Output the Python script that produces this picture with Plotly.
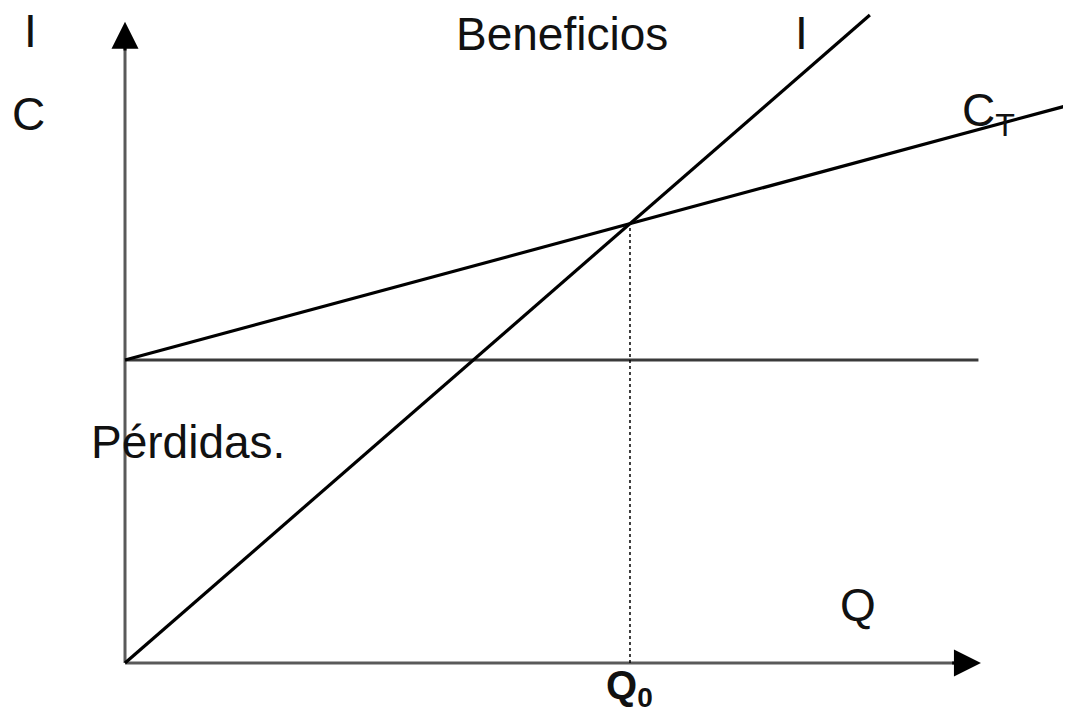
import plotly.graph_objects as go

# punto muerto: ingresos I = p*Q, costes C_T = CF + cv*Q
q0 = 100
precio = 0.87
coste_fijo = 60
coste_var = 0.27

q_ingresos = [0, 147.5]
q_costes = [0, 187.5]
q_fijo = [0, 169]
eje_x_fin = 169.5
eje_y_fin = 127

ingresos = [precio * q for q in q_ingresos]
costes = [coste_fijo + coste_var * q for q in q_costes]
fijos = [coste_fijo for _ in q_fijo]

fuente = "Liberation Sans, Arial, sans-serif"
gris = "#5a5a5a"

fig = go.Figure()

# ejes
fig.add_trace(go.Scatter(x=[0, eje_x_fin - 3], y=[0, 0], mode="lines",
                         line=dict(color=gris, width=3)))
fig.add_trace(go.Scatter(x=[0, 0], y=[0, eje_y_fin - 3], mode="lines",
                         line=dict(color=gris, width=3)))

fig.add_trace(go.Scatter(x=q_fijo, y=fijos, mode="lines",
                         line=dict(color="#3a3a3a", width=3)))
fig.add_trace(go.Scatter(x=q_costes, y=costes, mode="lines",
                         line=dict(color="black", width=3.2)))
fig.add_trace(go.Scatter(x=q_ingresos, y=ingresos, mode="lines",
                         line=dict(color="black", width=3.2)))
fig.add_trace(go.Scatter(x=[q0, q0], y=[0, precio * q0], mode="lines",
                         line=dict(color="black", width=1.5, dash="dot")))

# puntas de flecha
fig.add_annotation(x=eje_x_fin, y=0, ax=eje_x_fin - 6, ay=0, xref="x", yref="y",
                   axref="x", ayref="y", text="", showarrow=True, arrowhead=2,
                   arrowsize=1.8, arrowwidth=3, arrowcolor="black")
fig.add_annotation(x=0, y=eje_y_fin, ax=0, ay=eje_y_fin - 6, xref="x", yref="y",
                   axref="x", ayref="y", text="", showarrow=True, arrowhead=2,
                   arrowsize=1.8, arrowwidth=3, arrowcolor="black")

etiquetas = [
    ("I", -18.8, 125.2, "center"),
    ("C", -19.2, 108.8, "center"),
    ("Beneficios", 86.5, 124.6, "center"),
    ("I", 133.9, 124.8, "center"),
    ("C<sub>T</sub>", 165.3, 108.8, "left"),
    ("Pérdidas.", -7.1, 43.8, "left"),
    ("Q", 145.1, 11.5, "center"),
]
for texto, x, y, anc in etiquetas:
    fig.add_annotation(x=x, y=y, text=texto, showarrow=False, xanchor=anc,
                       yanchor="middle", font=dict(family=fuente, size=46, color="#111"))

fig.add_annotation(x=q0, y=-5.0, text="<b>Q<sub>0</sub></b>", showarrow=False,
                   xanchor="center", yanchor="middle",
                   font=dict(family=fuente, size=40, color="#111"))

# la página deja 8 px de margen arriba y a la izquierda
fig.update_xaxes(range=[-23.17, 187.33], visible=False)
fig.update_yaxes(range=[-9.50, 129.70], visible=False)
fig.update_layout(width=1063, height=703, margin=dict(l=0, r=0, t=0, b=0),
                  plot_bgcolor="white", paper_bgcolor="white", showlegend=False)

fig.write_html("out.html")
